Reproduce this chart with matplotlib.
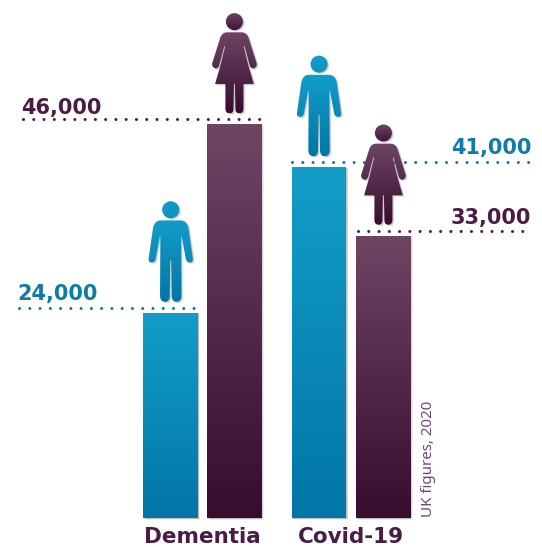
import numpy as np
import matplotlib
matplotlib.use("Agg")
import matplotlib.pyplot as plt
from matplotlib.colors import LinearSegmentedColormap
from matplotlib.patches import PathPatch
from matplotlib.path import Path
from matplotlib.transforms import Affine2D

# Deaths per condition, UK 2020
categorias = ["Dementia", "Covid-19"]
hombres = [24000, 41000]
mujeres = [46000, 33000]

AZUL = LinearSegmentedColormap.from_list("azul", ["#129DC8", "#0276A6"])
MORADO = LinearSegmentedColormap.from_list("morado", ["#6F4564", "#360D2F"])
AZUL_TXT = "#0E7CA6"
MORADO_TXT = "#4A1B45"

# Vertical scale: pixels per death, x axis is in pixels
PX = 394 / 46000
BASE_PX = 518.3
ANCHO = 54.5

fig = plt.figure(figsize=(5.42, 5.47), dpi=100)
ax = fig.add_axes([0, 0, 1, 1])


def sube(valor, px):
    # value moved up by a number of pixels
    return valor + px / PX


# Half outlines of the figures, mirrored when built
MEDIO_HOMBRE = [
    (Path.MOVETO, 0, 244), (Path.LINETO, 30, 244),
    (Path.CURVE3, 48, 244), (Path.CURVE3, 53, 222),
    (Path.LINETO, 66, 130),
    (Path.CURVE3, 68, 118), (Path.CURVE3, 57, 118),
    (Path.CURVE3, 47, 118), (Path.CURVE3, 45, 130),
    (Path.LINETO, 33, 196), (Path.LINETO, 31, 196),
    (Path.LINETO, 32, 18),
    (Path.CURVE3, 32, 0), (Path.CURVE3, 17, 0),
    (Path.CURVE3, 3, 0), (Path.CURVE3, 3, 18),
    (Path.LINETO, 1.5, 124), (Path.LINETO, 0, 124),
]
MEDIO_MUJER = [
    (Path.MOVETO, 0, 243), (Path.LINETO, 22, 243),
    (Path.CURVE3, 36, 243), (Path.CURVE3, 42, 228),
    (Path.LINETO, 66, 152),
    (Path.CURVE3, 70, 140), (Path.CURVE3, 58, 135),
    (Path.CURVE3, 50, 133), (Path.CURVE3, 46, 143),
    (Path.LINETO, 30, 203), (Path.LINETO, 28, 200),
    (Path.LINETO, 42, 143), (Path.LINETO, 58, 88),
    (Path.LINETO, 27, 88), (Path.LINETO, 27, 14),
    (Path.CURVE3, 27, 0), (Path.CURVE3, 14, 0),
    (Path.CURVE3, 3, 0), (Path.CURVE3, 3, 14),
    (Path.LINETO, 1.5, 88), (Path.LINETO, 0, 88),
]


def silueta(medio, y_cabeza):
    codigos = [m[0] for m in medio]
    puntos = [(m[1], m[2]) for m in medio]
    puntos += [(-x, y) for x, y in puntos[-2::-1]]
    codigos += codigos[:0:-1]
    cuerpo = Path(puntos, codigos)
    cabeza = Path.circle((0, y_cabeza), 25.5)
    return cuerpo, cabeza


def sombra(path, trans, zorder):
    # soft drop shadow, shifted in display pixels
    for dx, alfa in [(0.7, 0.16), (1.4, 0.12), (2.2, 0.07)]:
        t = trans + Affine2D().translate(dx, -dx * 0.8)
        ax.add_patch(PathPatch(path, transform=t, fc="#333333", ec="none",
                               alpha=alfa, zorder=zorder))


def degradado(path, trans, cmap, extent, zorder):
    rampa = np.linspace(0, 1, 256).reshape(-1, 1)
    im = ax.imshow(rampa, cmap=cmap, extent=extent, aspect="auto",
                   origin="upper", zorder=zorder, interpolation="bilinear")
    im.set_clip_path(path, transform=trans)


def persona(cx, valor, medio, y_cabeza, cmap, base_cabeza):
    pie = sube(valor, 11)
    trans = Affine2D().scale(1 / 3, 1 / (3 * PX)).translate(cx, pie) + ax.transData
    cuerpo, cabeza = silueta(medio, y_cabeza)
    sombra(cuerpo, trans, 4)
    sombra(cabeza, trans, 4)
    ext = (cx - 25, cx + 25, pie, pie + 246 / (3 * PX))
    degradado(cuerpo, trans, cmap, ext, 5)
    # the head only takes the upper part of the ramp when base_cabeza is low
    ext = (cx - 10, cx + 10, pie + base_cabeza / (3 * PX), pie + 302 / (3 * PX))
    degradado(cabeza, trans, cmap, ext, 5)


def barra(cx, valor, cmap):
    b = ax.bar(cx, valor, width=ANCHO, color="none", zorder=3)[0]
    sombra(b.get_path(), b.get_transform(), 2)
    degradado(b.get_path(), b.get_transform(), cmap,
              (cx - ANCHO / 2, cx + ANCHO / 2, 0, valor), 3)


def punteado(x0, x1, valor, color):
    ax.plot([x0, x1], [sube(valor, 4.8)] * 2, color=color, lw=2.2,
            linestyle=(0, (0.01, 3.35)), dash_capstyle="round", zorder=1.5)


centros_h = [170.7, 319]
centros_m = [234.4, 383.4]

for cx, v in zip(centros_h, hombres):
    barra(cx, v, AZUL)
    persona(cx, v, MEDIO_HOMBRE, 276, AZUL, 100)
for cx, v in zip(centros_m, mujeres):
    barra(cx, v, MORADO)
    persona(cx, v, MEDIO_MUJER, 275, MORADO, 240)

# Dotted leaders out to the value labels
punteado(19, 195, hombres[0], AZUL_TXT)
punteado(23, 263, mujeres[0], MORADO_TXT)
punteado(292, 530, hombres[1], AZUL_TXT)
punteado(358, 530, mujeres[1], MORADO_TXT)

cifras = dict(family="DejaVu Sans", fontweight="bold", fontsize=15)
ax.text(17, sube(hombres[0], 13), f"{hombres[0]:,}", color=AZUL_TXT, ha="left", va="baseline", **cifras)
ax.text(21, sube(mujeres[0], 10), f"{mujeres[0]:,}", color=MORADO_TXT, ha="left", va="baseline", **cifras)
ax.text(531, sube(hombres[1], 13), f"{hombres[1]:,}", color=AZUL_TXT, ha="right", va="baseline", **cifras)
ax.text(531, sube(mujeres[1], 12), f"{mujeres[1]:,}", color=MORADO_TXT, ha="right", va="baseline", **cifras)

nombres = dict(family="DejaVu Sans", fontweight="bold", fontsize=15.5)
ax.text(202.5, sube(0, -25), categorias[0], color=MORADO_TXT, ha="center", va="baseline", **nombres)
ax.text(351, sube(0, -25), categorias[1], color=MORADO_TXT, ha="center", va="baseline", **nombres)

ax.text(428.5, sube(0, 1), "UK figures, 2020", rotation=90, color="#6A4A72",
        ha="center", va="bottom", family="Noto Sans", fontsize=10.9)

ax.set_xlim(0, 542)
ax.set_ylim((BASE_PX - 547) / PX, BASE_PX / PX)
ax.axis("off")

fig.savefig("out.png", dpi=100, facecolor="white")
